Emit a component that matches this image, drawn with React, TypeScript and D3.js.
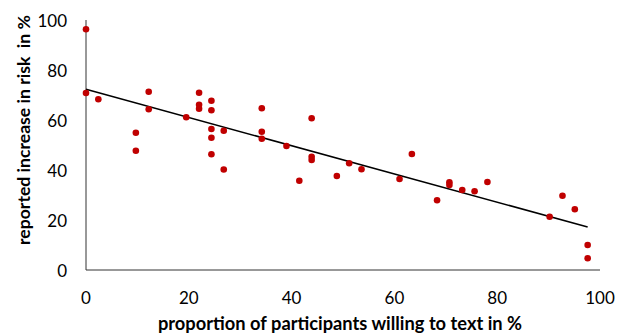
import React, { useEffect, useRef } from 'react';
import * as d3 from 'd3';

// data
const xValues = [0, 0, 2.4, 12.2, 12.2, 9.7, 9.7, 19.5, 22, 22, 22, 24.4, 24.4, 24.4, 24.4, 24.4, 26.8, 26.8,
  34.2, 34.2, 34.2, 39, 43.9, 43.9, 43.9, 41.5, 51.2, 63.4, 53.6, 48.8, 61, 68.3, 70.7, 70.7, 73.2, 75.6, 78.1,
  90.2, 92.7, 95.1, 97.6, 97.6];
const yValues = [96.3, 70.8, 68.3, 71.3, 64.3, 54.9, 47.7, 61.1, 70.9, 66.1, 64.5, 67.7, 63.9, 56.4, 52.9, 46.3, 55.7, 40.2,
  64.7, 55.3, 52.5, 49.6, 60.7, 45.3, 44.0, 35.7, 42.7, 46.4, 40.3, 37.6, 36.4, 27.9, 35.1, 34.0, 32, 31.5, 35.2,
  21.3, 29.7, 24.3, 10, 4.7];
const trendX = [0, 97.6];
const trendY = [72.3, 17.2];
const ticks = [0, 20, 40, 60, 80, 100];

const xTitle = 'proportion of participants willing to text in %';
const yTitle = 'reported increase in risk  in %';

const App = () => {
  const ref = useRef<SVGSVGElement>(null);

  useEffect(() => {
    const svg = d3.select(ref.current);
    svg.selectAll('*').remove();

    const xScale = d3.scaleLinear().domain([0, 100]).range([86, 600]);
    const yScale = d3.scaleLinear().domain([0, 100]).range([270, 20]);
    const font = 'Lato, "Open Sans", sans-serif';

    // axes lines
    svg.append('line')
      .attr('x1', xScale(0)).attr('x2', xScale(0))
      .attr('y1', yScale(0)).attr('y2', yScale(100))
      .attr('stroke', '#333').attr('stroke-width', 1);
    svg.append('line')
      .attr('x1', xScale(0)).attr('x2', xScale(100))
      .attr('y1', yScale(0)).attr('y2', yScale(0))
      .attr('stroke', '#333').attr('stroke-width', 1);

    // tick labels
    svg.append('g').selectAll('text')
      .data(ticks).join('text')
      .attr('x', 67).attr('y', (d) => yScale(d))
      .attr('text-anchor', 'end').attr('dominant-baseline', 'central')
      .style('font-family', font).style('font-size', '17px').style('fill', '#000')
      .text((d) => d);
    svg.append('g').selectAll('text')
      .data(ticks).join('text')
      .attr('x', (d) => xScale(d)).attr('y', 297)
      .attr('text-anchor', 'middle').attr('dominant-baseline', 'central')
      .style('font-family', font).style('font-size', '17px').style('fill', '#000')
      .text((d) => d);

    // trend line
    svg.append('line')
      .attr('x1', xScale(trendX[0])).attr('y1', yScale(trendY[0]))
      .attr('x2', xScale(trendX[1])).attr('y2', yScale(trendY[1]))
      .attr('stroke', '#000').attr('stroke-width', 1.5);

    // points
    svg.append('g').selectAll('circle')
      .data(xValues.map((x, i) => ({ x, y: yValues[i] }))).join('circle')
      .attr('cx', (d) => xScale(d.x)).attr('cy', (d) => yScale(d.y))
      .attr('r', 3.3).attr('fill', '#c00000');

    // titles
    svg.append('text')
      .attr('x', 340).attr('y', 323)
      .attr('text-anchor', 'middle').attr('dominant-baseline', 'central')
      .style('font-family', font).style('font-weight', 'bold').style('font-size', '18.3px')
      .text(xTitle);
    svg.append('text')
      .attr('transform', `translate(23,${130}) rotate(-90)`)
      .attr('text-anchor', 'middle').attr('dominant-baseline', 'central')
      .style('font-family', font).style('font-weight', 'bold').style('font-size', '17.6px')
      .style('white-space', 'pre')
      .text(yTitle);
  }, []);

  return (
    <svg ref={ref} width={617} height={333}
      style={{ position: 'absolute', left: 0, top: 0, background: '#fff' }} />
  );
};

export default App;
